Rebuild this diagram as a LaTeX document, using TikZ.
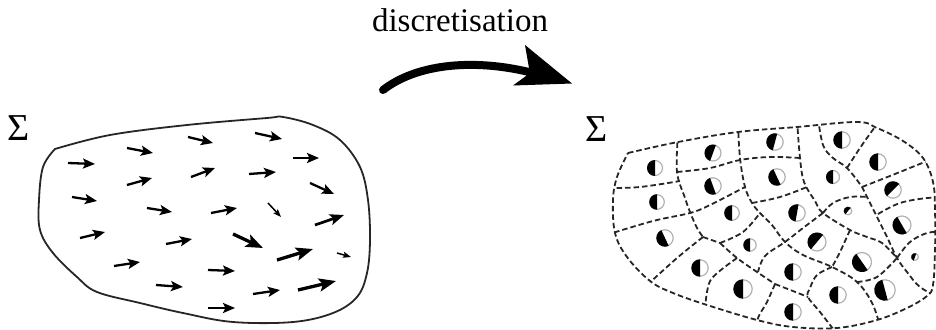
\documentclass[tikz,border=0pt]{standalone}
\usepackage{fontspec}
\setmainfont{Liberation Serif}
\usetikzlibrary{arrows.meta}
\tikzset{
  vec/.style={line width=2.3pt,-{Stealth[length=12pt,width=10pt,inset=2.5pt]}},
  vecmid/.style={line width=2.7pt,-{Stealth[length=14pt,width=11pt,inset=3pt]}},
  vecbig/.style={line width=3.3pt,-{Stealth[length=17pt,width=13pt,inset=3.5pt]}},
  vecsmall/.style={line width=1.5pt,-{Stealth[length=8pt,width=6pt,inset=1.5pt]}},
  blobline/.style={line width=1.8pt,black!85},
  cellline/.style={line width=1.8pt,dash pattern=on 5.5pt off 3pt,black!85},
  label/.style={inner sep=0pt,anchor=base},
}
\newcommand\hcirc[4]{%
  \draw[gray!60,line width=1.2pt] (#1,#2) circle[radius=#3];
  \fill[black,rotate around={#4:(#1,#2)}] (#1,#2) ++(0,#3+0.5) arc[start angle=90,end angle=270,radius=#3+0.5] -- cycle;
}
\begin{document}
\begin{tikzpicture}[x=1pt,y=-1pt]
\useasboundingbox (0,0) rectangle (936,329);

% labels
\node[label,font=\fontsize{33}{38}\selectfont] (title) at (460,32) {discretisation};
\node[label,font=\fontsize{38}{42}\selectfont] (sigmaL) at (18.5,140) {Σ};
\node[label,font=\fontsize{38}{42}\selectfont] (sigmaR) at (596.5,141.5) {Σ};

% big curved arrow
\draw[line width=8pt,line cap=round] (383,90) .. controls (415,65) and (470,58) .. (529,72);
\fill (525,45) -- (572,83.5) -- (513,85.5) -- (526,76) -- (529,68) -- cycle;

% left blob
\draw[blobline] plot[smooth,tension=0.6] coordinates {(55,149) (110,135) (187,125) (267,118) (283,117) (313,125) (340,140) (360,167) (368,200) (370,240) (367,273) (357,297) (333,313) (293,322) (233,322) (183,313) (140,303) (97,292) (77,277) (53,253) (40,230) (39,200) (43,167) (55,149)} -- cycle;

% vectors
\draw[vec] (68,163) -- (95,164);
\draw[vec] (127,148) -- (153,153);
\draw[vec] (188,137) -- (213,143);
\draw[vec] (255,133) -- (282,139);
\draw[vec] (293,158) -- (319,158);
\draw[vec] (72,197) -- (97,201);
\draw[vec] (127,185) -- (152,178);
\draw[vec] (191,177) -- (215,168);
\draw[vec] (249,174) -- (276,172);
\draw[vec] (310,183) -- (334,194);
\draw[vec] (147,208) -- (172,212);
\draw[vec] (211,213) -- (237,208);
\draw[vecsmall] (268,203) -- (281,217);
\draw[vecmid] (315,225) -- (344,215);
\draw[vec] (80,238) -- (105,232);
\draw[vec] (166,244) -- (192,239);
\draw[vecbig] (233,234) -- (263,248);
\draw[vecbig] (277,260) -- (313,249);
\draw[vecsmall] (337,253) -- (351,257);
\draw[vec] (114,266) -- (140,262);
\draw[vec] (208,270) -- (235,271);
\draw[vec] (156,285) -- (183,287);
\draw[vec] (253,294) -- (280,290);
\draw[vecbig] (298,290) -- (336,281);
\draw[vec] (208,308) -- (235,308);

% right blob: cells
\begin{scope}
\clip plot[smooth,tension=0.6] coordinates {(628,153) (678,142) (738,132) (797,127) (857,122) (877,128) (903,141) (923,158) (933,182) (935,210) (935,250) (933,285) (927,296) (907,308) (877,320) (837,328) (793,327) (757,320) (707,305) (673,293) (650,281) (627,257) (615,233) (613,200) (617,177) (628,153)} -- cycle;
\draw[cellline] plot[smooth,tension=0.6] coordinates {(608,188) (640,187) (680,181)};
\draw[cellline] plot[smooth,tension=0.6] coordinates {(678,134) (677,172) (685,198) (690,212) (697,228) (703,237)};
\draw[cellline] plot[smooth,tension=0.6] coordinates {(677,172) (710,168) (740,160) (770,157) (800,158)};
\draw[cellline] plot[smooth,tension=0.6] coordinates {(738,124) (740,158) (745,187) (752,203) (760,213) (772,225) (785,242) (803,255) (832,267) (857,282) (873,305) (882,334)};
\draw[cellline] plot[smooth,tension=0.6] coordinates {(606,235) (653,221) (690,213) (710,205) (745,187)};
\draw[cellline] plot[smooth,tension=0.6] coordinates {(797,120) (800,158) (804,182) (815,201) (823,213) (850,230) (867,237) (882,243) (897,258)};
\draw[cellline] plot[smooth,tension=0.6] coordinates {(818,118) (823,145) (833,158) (847,168) (862,187) (867,197) (877,217) (887,237) (897,258) (907,272) (920,287) (940,298)};
\draw[cellline] plot[smooth,tension=0.6] coordinates {(847,168) (862,145) (880,120)};
\draw[cellline] plot[smooth,tension=0.6] coordinates {(862,187) (895,174) (925,162) (942,157)};
\draw[cellline] plot[smooth,tension=0.6] coordinates {(878,214) (900,203) (927,198) (942,198)};
\draw[cellline] plot[smooth,tension=0.6] coordinates {(897,258) (910,242) (927,233) (942,232)};
\draw[cellline] plot[smooth,tension=0.6] coordinates {(823,213) (833,203) (850,197) (867,197)};
\draw[cellline] plot[smooth,tension=0.6] coordinates {(752,203) (780,197) (807,187)};
\draw[cellline] plot[smooth,tension=0.6] coordinates {(823,213) (803,228) (785,242) (765,256) (758,272)};
\draw[cellline] plot[smooth,tension=0.6] coordinates {(703,237) (720,243)};
\draw[cellline] plot[smooth,tension=0.6] coordinates {(720,243) (743,232) (760,213)};
\draw[cellline] plot[smooth,tension=0.6] coordinates {(720,243) (737,258) (757,272) (775,284)};
\draw[cellline] plot[smooth,tension=0.6] coordinates {(737,258) (713,277) (707,292) (705,312)};
\draw[cellline] plot[smooth,tension=0.6] coordinates {(703,237) (677,258) (645,287)};
\draw[cellline] plot[smooth,tension=0.6] coordinates {(850,230) (840,252) (832,267)};
\draw[cellline] plot[smooth,tension=0.6] coordinates {(857,282) (877,277) (897,258)};
\draw[cellline] plot[smooth,tension=0.6] coordinates {(775,284) (803,295) (808,297)};
\draw[cellline] plot[smooth,tension=0.6] coordinates {(775,284) (767,302) (758,318) (756,334)};
\draw[cellline] plot[smooth,tension=0.6] coordinates {(832,267) (817,275) (810,288) (808,297) (820,312) (837,334)};
\end{scope}
\draw[cellline] plot[smooth,tension=0.6] coordinates {(628,153) (678,142) (738,132) (797,127) (857,122) (877,128) (903,141) (923,158) (933,182) (935,210) (935,250) (933,285) (927,296) (907,308) (877,320) (837,328) (793,327) (757,320) (707,305) (673,293) (650,281) (627,257) (615,233) (613,200) (617,177) (628,153)} -- cycle;

% half-filled circles
\hcirc{655}{168}{7.5}{0}
\hcirc{713}{153}{8}{-20}
\hcirc{775}{142}{8.2}{-15}
\hcirc{842}{140}{8.2}{0}
\hcirc{878}{162}{8.2}{0}
\hcirc{657}{202}{7.3}{0}
\hcirc{713}{186}{8.2}{20}
\hcirc{777}{177}{8.2}{25}
\hcirc{833}{177}{6.5}{0}
\hcirc{893}{190}{8.2}{-45}
\hcirc{732}{213}{7.3}{0}
\hcirc{797}{213}{8.2}{-10}
\hcirc{848}{211}{3.8}{-40}
\hcirc{902}{225}{9}{30}
\hcirc{665}{238}{8.2}{25}
\hcirc{750}{245}{6.2}{0}
\hcirc{817}{242}{9}{-40}
\hcirc{862}{262}{9.5}{35}
\hcirc{915}{257}{3.4}{-20}
\hcirc{700}{268}{8.2}{0}
\hcirc{793}{272}{8.2}{0}
\hcirc{743}{289}{9.2}{0}
\hcirc{838}{295}{8.2}{0}
\hcirc{885}{290}{10.2}{15}
\hcirc{793}{312}{8.2}{0}
\end{tikzpicture}
\end{document}
